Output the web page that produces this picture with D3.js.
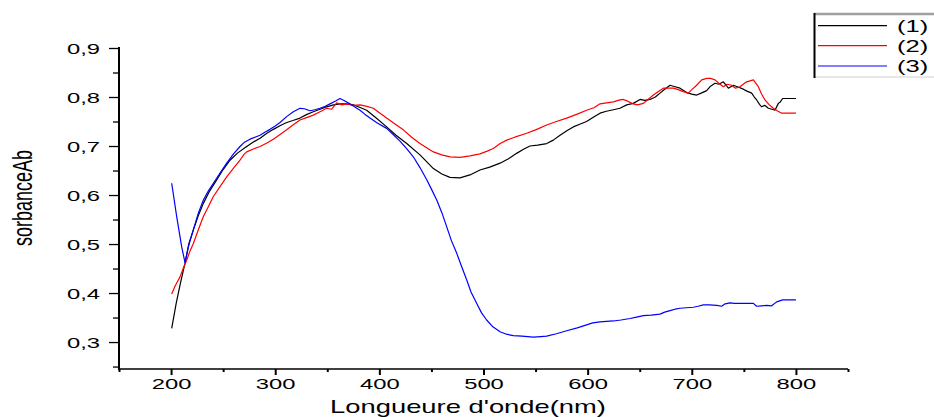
<!DOCTYPE html>
<html>
<head>
<meta charset="utf-8">
<script src="https://cdn.jsdelivr.net/npm/d3@7"></script>
<style>
  html, body { margin: 0; padding: 0; background: #fff; }
  svg { display: block; }
  text { font-family: "Liberation Sans", Arial, sans-serif; }
</style>
</head>
<body>
<svg id="chart" width="934" height="417"></svg>
<script>
// ---------- DATA ----------
const seriesNames = ["(1)", "(2)", "(3)"];
const seriesColors = ["#000000", "#ff0000", "#0000ff"];

const wl1 = [200.6,205,209,213.4,217,221.4,226,231,237,243.8,250,256.6,264,272.6,279,285.4,292,298.2,305,311,317,323.8,330,336.6,343,349.4,356,362.2,368,375,381,387.8,397,407,416,426.3,439,451.9,460,467.8,477.4,487,496.6,506,515.9,524,531.8,538,544.6,552,560.7,567,573.5,580,586.2,593,599,605,611.9,618,624.7,631,637.5,643.8,650.3,655,659.9,665,669.5,674,679.1,684,688.7,695.1,700,704.7,709,714.3,718,722.3,726,730.3,733,735.1,739.9,745,749.5,753,757.5,760,762.3,765,767.1,770,773.5,777,779.9,783.1,785,787.3,800];
const abs1 = [0.328,0.38,0.42,0.461,0.50,0.529,0.557,0.583,0.608,0.631,0.652,0.671,0.686,0.699,0.708,0.716,0.726,0.734,0.742,0.748,0.752,0.757,0.764,0.770,0.775,0.780,0.784,0.786,0.786,0.784,0.779,0.773,0.757,0.739,0.722,0.705,0.682,0.654,0.643,0.636,0.635,0.641,0.651,0.657,0.665,0.674,0.685,0.693,0.700,0.702,0.705,0.712,0.722,0.731,0.739,0.745,0.750,0.758,0.767,0.771,0.774,0.777,0.784,0.787,0.795,0.793,0.795,0.800,0.808,0.816,0.824,0.821,0.818,0.809,0.806,0.804,0.808,0.813,0.822,0.828,0.826,0.831,0.824,0.818,0.824,0.820,0.816,0.812,0.808,0.800,0.794,0.785,0.780,0.783,0.777,0.775,0.773,0.787,0.790,0.797,0.797];

const wl2 = [200.6,204,208.6,212,215,218,221.4,226,231,236,240.6,247,253.4,260,266.2,270,272.6,279,285.4,292,298.2,305,311,317,323.8,330,336.6,343,349.4,354,359,364,368.6,375,381.4,388,394.2,400,407,415,423,431,439,445,451.9,460,467.8,477.4,487,496.6,503,509.4,516,522.3,530,541.5,550,560.7,570,579.9,590,599,606,611.9,618.3,624.7,631,634.3,638,643.8,648,653.5,658,663.1,668,672.7,677,682.3,687,691.9,696.7,700,704.7,709.5,714.3,718,722.3,726,730.3,734,738.3,742,746.3,750,752.7,759.1,763.9,767,770.3,774,778.3,782,786.3,800];
const abs2 = [0.398,0.415,0.433,0.452,0.467,0.485,0.501,0.528,0.556,0.577,0.597,0.617,0.637,0.655,0.671,0.683,0.688,0.694,0.699,0.706,0.714,0.724,0.733,0.743,0.753,0.758,0.763,0.770,0.777,0.775,0.788,0.784,0.786,0.783,0.784,0.781,0.777,0.768,0.757,0.745,0.733,0.718,0.705,0.697,0.688,0.682,0.678,0.677,0.680,0.684,0.689,0.695,0.705,0.712,0.718,0.726,0.733,0.743,0.750,0.757,0.765,0.773,0.778,0.786,0.788,0.790,0.794,0.795,0.792,0.786,0.784,0.787,0.795,0.804,0.811,0.818,0.818,0.818,0.815,0.811,0.808,0.815,0.824,0.835,0.838,0.838,0.835,0.828,0.821,0.826,0.824,0.818,0.821,0.827,0.831,0.835,0.821,0.806,0.794,0.785,0.777,0.772,0.767,0.767];

const wl3 = [200.6,205.4,210.2,213.4,216.6,218,221.4,226,231,236,240.6,247,253.4,260,266.2,270,275.8,285.4,290,295,300,304.6,311,317.4,323.8,328,333.4,338,343,348,352.6,358,362.2,366,371.8,376,381.4,386,391,398,407,413,419.8,426,432.6,439,445.5,450,455.1,460,464.7,469,474.3,479,483.8,488,493.4,498,503,509,515.9,522,528.6,537,547.8,555,560.7,570,579.9,590,599,605,611.9,618,624.7,632,640.7,647,653.5,661,669.5,674,679.1,684,688.7,695,701.5,706,711.1,717,724,728.7,732,736.7,741,746.3,753,759.1,762.3,767,771.9,776.7,781.5,787.3,800];
const abs3 = [0.624,0.556,0.494,0.462,0.494,0.505,0.529,0.562,0.590,0.609,0.624,0.645,0.665,0.684,0.699,0.707,0.714,0.722,0.728,0.734,0.741,0.748,0.760,0.770,0.777,0.776,0.772,0.774,0.777,0.781,0.786,0.792,0.797,0.793,0.786,0.780,0.773,0.765,0.757,0.747,0.736,0.724,0.710,0.695,0.678,0.656,0.631,0.612,0.590,0.564,0.535,0.508,0.481,0.454,0.427,0.402,0.379,0.360,0.345,0.331,0.321,0.316,0.313,0.312,0.310,0.311,0.312,0.317,0.323,0.329,0.335,0.339,0.341,0.342,0.343,0.345,0.348,0.351,0.354,0.355,0.357,0.361,0.364,0.367,0.369,0.370,0.371,0.373,0.376,0.376,0.375,0.373,0.378,0.380,0.379,0.379,0.379,0.379,0.373,0.374,0.375,0.374,0.382,0.386,0.386];

const xTicks = [200, 300, 400, 500, 600, 700, 800];
const xMinorTicks = [150, 250, 350, 450, 550, 650, 750, 850];
const yTicks = [0.3, 0.4, 0.5, 0.6, 0.7, 0.8, 0.9];
const yMinorTicks = [0.25, 0.35, 0.45, 0.55, 0.65, 0.75, 0.85];
const xTitle = "Longueure d'onde(nm)";
const yTitle = "sorbanceAb";

// ---------- DRAWING ----------
(function () {
const svg = d3.select("#chart");
const pL = 119, pR = 848, pT = 48, pB = 369;
const x = d3.scaleLinear().domain([150, 850]).range([pL, pR]);
const y = d3.scaleLinear().domain([0.245, 0.9]).range([pB, pT]);
const SX = 1.7; // horizontal stretch of the reference

const fmt = d => d3.format(".1f")(d).replace(".", ",");

// curves
const series = [
  {wl: wl1, ab: abs1},
  {wl: wl2, ab: abs2},
  {wl: wl3, ab: abs3}
];
const line = d3.line().x(d => x(d[0])).y(d => y(d[1]));
series.forEach((s, i) => {
  const pts = s.wl.map((w, k) => [w, s.ab[k]]);
  svg.append("path")
    .attr("d", line(pts))
    .attr("fill", "none")
    .attr("stroke", seriesColors[i])
    .attr("stroke-width", 1.2)
    .attr("stroke-linejoin", "round");
});

// y axis
const gy = svg.append("g").attr("transform", `translate(${pL},0)`);
gy.call(d3.axisLeft(y).tickValues(yTicks).tickFormat(fmt).tickSize(10).tickPadding(0));
gy.select(".domain").remove();
gy.selectAll(".tick line").attr("stroke", "#000").attr("stroke-width", 1.3);
gy.selectAll(".tick text")
  .attr("font-size", 14).attr("fill", "#000")
  .attr("x", 0).attr("dy", null).attr("y", 5)
  .attr("transform", `translate(-19,0) scale(${SX},1)`)
  .attr("font-family", "Liberation Sans, Arial, sans-serif");
const gym = svg.append("g").attr("transform", `translate(${pL},0)`);
gym.call(d3.axisLeft(y).tickValues(yMinorTicks).tickFormat("").tickSize(6));
gym.select(".domain").remove();
gym.selectAll(".tick line").attr("stroke", "#000").attr("stroke-width", 1.3);
svg.append("line").attr("x1", pL).attr("x2", pL).attr("y1", pT - 1).attr("y2", pB + 1)
  .attr("stroke", "#000").attr("stroke-width", 2);

// x axis
const gx = svg.append("g").attr("transform", `translate(0,${pB})`);
gx.call(d3.axisBottom(x).tickValues(xTicks).tickFormat(d3.format("d")).tickSize(6).tickPadding(0));
gx.select(".domain").remove();
gx.selectAll(".tick line").attr("stroke", "#000").attr("stroke-width", 2);
gx.selectAll(".tick text")
  .attr("font-size", 14).attr("fill", "#000")
  .attr("y", 20).attr("dy", null)
  .attr("transform", `scale(${SX},1)`)
  .attr("font-family", "Liberation Sans, Arial, sans-serif");
const gxm = svg.append("g").attr("transform", `translate(0,${pB})`);
gxm.call(d3.axisBottom(x).tickValues(xMinorTicks).tickFormat("").tickSize(3));
gxm.select(".domain").remove();
gxm.selectAll(".tick line").attr("stroke", "#000").attr("stroke-width", 2);
svg.append("line").attr("x1", pL).attr("x2", pR).attr("y1", pB).attr("y2", pB)
  .attr("stroke", "#000").attr("stroke-width", 1.4);

// titles
svg.append("text")
  .attr("transform", `translate(468,413) scale(1.52,1)`)
  .attr("text-anchor", "middle")
  .attr("font-size", 18)
  .attr("fill", "#000")
  .text(xTitle);
svg.append("text")
  .attr("transform", `translate(32,198) scale(1.5,1) rotate(-90)`)
  .attr("text-anchor", "middle")
  .attr("font-size", 18)
  .attr("fill", "#000")
  .text(yTitle);

// legend
const lg = svg.append("g");
lg.append("rect").attr("x", 814).attr("y", 14).attr("width", 130).attr("height", 63)
  .attr("fill", "#fff").attr("stroke", "none");
lg.append("line").attr("x1", 814).attr("x2", 934).attr("y1", 14).attr("y2", 14)
  .attr("stroke", "#a0a0a0").attr("stroke-width", 2.5);
lg.append("line").attr("x1", 814).attr("x2", 934).attr("y1", 77).attr("y2", 77)
  .attr("stroke", "#d0d0d0").attr("stroke-width", 1);
lg.append("line").attr("x1", 814.5).attr("x2", 814.5).attr("y1", 13).attr("y2", 78)
  .attr("stroke", "#000").attr("stroke-width", 2);
const legY = [25.7, 45.7, 66];
seriesNames.forEach((n, i) => {
  lg.append("line").attr("x1", 818).attr("x2", 887).attr("y1", legY[i]).attr("y2", legY[i])
    .attr("stroke", seriesColors[i]).attr("stroke-width", 1.2);
  lg.append("text")
    .attr("transform", `translate(897,${legY[i] + 6}) scale(1.5,1)`)
    .attr("font-size", 17)
    .attr("fill", "#000")
    .text(n);
});
})();
</script>
</body>
</html>
